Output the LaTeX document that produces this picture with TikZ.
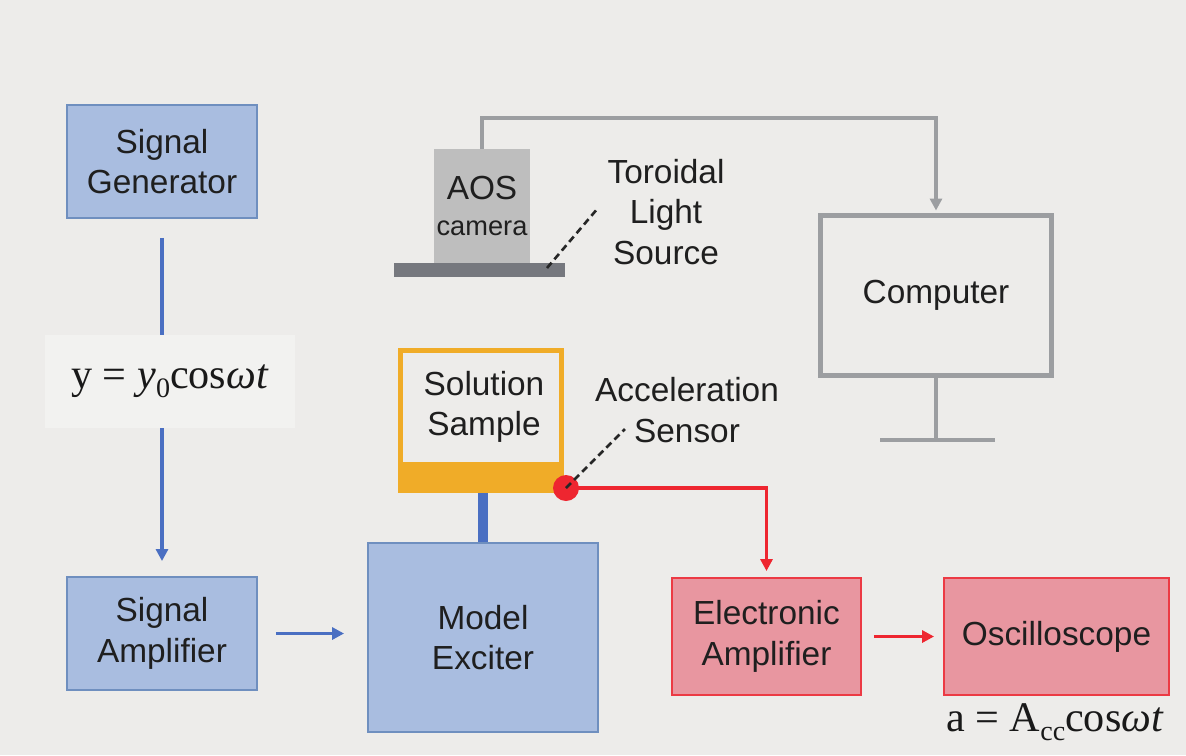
\documentclass[tikz,border=0pt]{standalone}
\usepackage[no-math]{fontspec}
\setmainfont{Liberation Sans}
\newfontfamily\formfont{Liberation Serif}
\usetikzlibrary{arrows.meta, positioning}

\definecolor{bgcol}{HTML}{EDECEA}
\definecolor{blfill}{HTML}{A9BDE0}
\definecolor{bldraw}{HTML}{6F8FBF}
\definecolor{blline}{HTML}{4A6FC2}
\definecolor{rdfill}{HTML}{E896A0}
\definecolor{rddraw}{HTML}{EC3A44}
\definecolor{rdline}{HTML}{EE2630}
\definecolor{orng}{HTML}{F0AC28}
\definecolor{gyline}{HTML}{9C9EA1}
\definecolor{gyfill}{HTML}{BEBEBE}
\definecolor{gydark}{HTML}{76787E}

\tikzset{
  blk/.style={line width=1.1pt, align=center, inner sep=0pt,
    font=\fontsize{19}{23}\selectfont, text=black!88},
  bluebox/.style={blk, draw=bldraw, fill=blfill},
  redbox/.style={blk, draw=rddraw, fill=rdfill},
  formula/.style={inner sep=0pt, font=\formfont\fontsize{24}{28}\selectfont, text=black!90},
  tip/.style={-{Triangle[length=0.24cm, width=0.24cm]}},
  blueline/.style={blline, line width=2.2pt},
  redline/.style={rdline, line width=2.2pt},
  greyline/.style={gyline, line width=2.4pt},
  leader/.style={black!85, line width=1.5pt, dash pattern=on 4pt off 2.5pt}
}

\begin{document}
\begin{tikzpicture}[x=0.02cm, y=-0.02cm]

  % background
  \fill[bgcol] (0,0) rectangle (1186,755);
  \useasboundingbox (0,0) rectangle (1186,755);

  % signal chain on the left
  \node[bluebox, minimum width=3.8cm, minimum height=2.26cm] (gen) at (162,161.5) {Signal\\Generator};
  \node[fill=white!30!bgcol, minimum width=5cm, minimum height=1.86cm, formula] (formy) at (170,381.5)
        {y = \textit{y}\raisebox{-0.22em}{\fontsize{16}{18}\selectfont 0}cos\textit{ωt}};
  \node[bluebox, minimum width=3.8cm, minimum height=2.26cm] (sigamp) at (162,633.5) {Signal\\Amplifier};
  \node[bluebox, minimum width=4.6cm, minimum height=3.78cm] (exciter) at (483,637.5) {Model\\Exciter};

  \draw[blueline, shorten <=0.38cm] (gen.south) -- (gen.south |- formy.north);
  \draw[blueline, tip, shorten >=0.3cm] (gen.south |- formy.south) -- (sigamp.north);
  \draw[blueline, tip, shorten <=0.36cm, shorten >=0.46cm] (sigamp.east) -- (sigamp.east -| exciter.west);

  % solution sample on the exciter
  \node[draw=orng, line width=0.1cm, minimum width=3.22cm, minimum height=2.8cm, inner sep=0pt] (sample) at (481,420.5) {};
  \fill[orng] (sample.south west) rectangle ([yshift=0.62cm]sample.south east);
  \node[blk] (sampletxt) at (484,407) {Solution\\Sample};
  \draw[blline, line width=0.2cm] (exciter.north) -- (exciter.north |- sample.south);

  % acceleration sensor and measuring chain
  \node[redbox, minimum width=3.78cm, minimum height=2.34cm] (eamp) at (766.5,636.5) {Electronic\\Amplifier};
  \node[redbox, minimum width=4.5cm, minimum height=2.34cm] (osc) at (1056.5,636.5) {Oscilloscope};
  \node[formula] (forma) at (1055,722)
        {a = A\raisebox{-0.22em}{\fontsize{16}{18}\selectfont cc}cos\textit{ωt}};

  \coordinate (sensorpt) at (566,488);
  \draw[redline, tip, shorten >=0.12cm] (sensorpt) -| (eamp.north);
  \node[circle, fill=rdline, minimum size=0.52cm, inner sep=0pt] (sensor) at (sensorpt) {};
  \draw[redline, tip, shorten <=0.24cm, shorten >=0.18cm] (eamp.east) -- (osc.west);

  \node[blk] (senslbl) at (687,410) {Acceleration\\Sensor};
  \coordinate (senstip) at (625,429);
  \draw[leader] (sensor.center) -- (senstip);

  % AOS camera and light source
  \node[fill=gyfill, minimum width=1.92cm, minimum height=2.28cm, inner sep=0pt, align=center,
        font=\fontsize{19}{20.4}\selectfont, text=black!88] (camera) at (482,206)
        {AOS\\{\fontsize{15.5}{18}\selectfont camera}};
  \node[fill=gydark, minimum width=3.42cm, minimum height=0.28cm, inner sep=0pt] (base) at (479.5,270) {};
  \node[blk] (lightlbl) at (666,212) {Toroidal\\Light\\Source};
  \coordinate (basept) at (547,268);
  \coordinate (lighttip) at (598,208);
  \draw[leader] (basept) -- (lighttip);

  % computer
  \node[blk, draw=gyline, line width=0.1cm, minimum width=4.62cm, minimum height=3.2cm] (comp) at (936,295.5) {Computer};
  \draw[greyline, tip, shorten >=0.05cm] (camera.north) -- ++(0,-31) -| (comp.north);
  \coordinate (foot) at (936,440);
  \draw[greyline] (comp.south) -- (foot);
  \draw[greyline] ([xshift=-1.12cm]foot) -- ([xshift=1.18cm]foot);

\end{tikzpicture}
\end{document}
